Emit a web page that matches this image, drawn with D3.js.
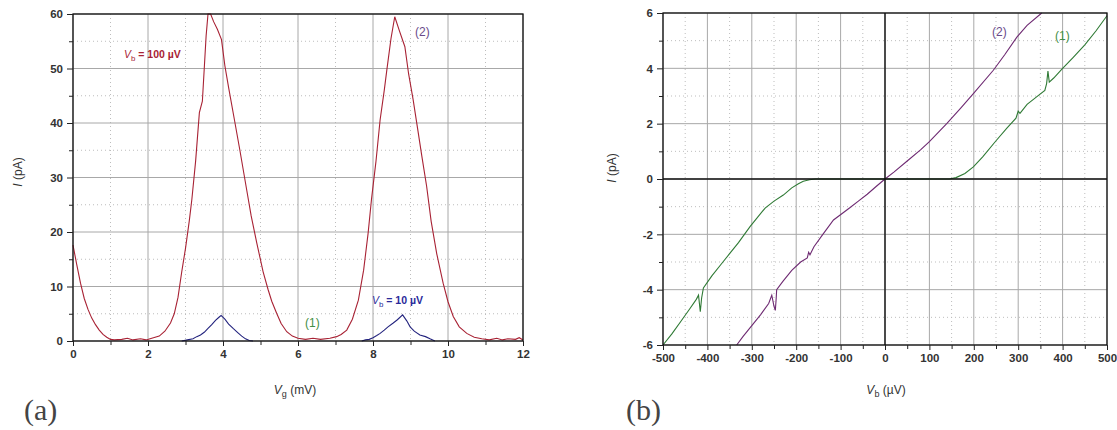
<!DOCTYPE html>
<html>
<head>
<meta charset="utf-8">
<script src="https://cdn.jsdelivr.net/npm/d3@7"></script>
<style>
  body { margin: 0; background: #fff; }
  svg { display: block; }
  .tick text { font-family: "Liberation Sans", Arial, sans-serif; font-size: 11.5px; font-weight: bold; fill: #333; }
</style>
</head>
<body>
<svg id="chart" width="1117" height="430"></svg>
<script>
// panel (a): current vs gate voltage, two bias voltages
const redCurve = [ // Vb = 100 uV
  [0,17.6],[0.1,14],[0.2,10.6],[0.3,7.8],[0.4,5.8],[0.5,4.2],[0.6,3.0],[0.7,2.0],[0.8,1.2],[0.9,0.7],
  [1.0,0.3],[1.1,0.2],[1.3,0.3],[1.45,0.5],[1.6,0.2],[1.8,0.4],[1.95,0.2],[2.1,0.5],[2.3,0.9],[2.45,1.8],
  [2.6,3.3],[2.7,5.0],[2.8,8.0],[2.9,12.7],[3.0,17],[3.1,22],[3.17,26],[3.27,33],[3.37,41.9],[3.45,44],
  [3.5,50],[3.55,56],[3.6,60],[3.67,60],[3.75,58.6],[3.85,57.2],[3.96,55.3],[4.05,50.5],[4.15,46.5],[4.32,40],
  [4.45,35],[4.63,27.8],[4.75,23],[4.9,18],[5.07,12.7],[5.2,9.5],[5.3,7.3],[5.43,5.1],[5.55,3.2],[5.7,1.7],
  [5.85,0.9],[6.0,0.5],[6.2,0.3],[6.4,0.5],[6.6,0.3],[6.85,0.5],[7.03,0.8],[7.15,1.2],[7.3,2.0],[7.45,4.0],
  [7.61,7.5],[7.75,13],[7.87,19.8],[7.96,26],[8.08,33],[8.19,40.6],[8.3,46],[8.37,49.8],[8.48,55.5],[8.58,59.5],
  [8.7,57],[8.85,54],[8.95,49],[9.07,44.3],[9.2,38.5],[9.3,34],[9.43,28.4],[9.55,22],[9.7,16],[9.87,10.6],
  [10.0,7.2],[10.14,4.5],[10.3,2.6],[10.5,1.4],[10.7,0.7],[10.9,0.4],[11.1,0.2],[11.3,0.5],[11.45,0.2],[11.6,0.4],
  [11.8,0.3],[11.9,0.6],[12,0.2]
];
const blueCurve = [ // Vb = 10 uV
  [2.9,0],[3.05,0.2],[3.2,0.4],[3.3,0.8],[3.4,1.1],[3.5,1.6],[3.6,2.3],[3.7,3.0],[3.8,3.8],[3.9,4.4],
  [3.95,4.7],[4.05,4.0],[4.15,3.1],[4.27,2.3],[4.4,1.5],[4.5,0.9],[4.6,0.4],[4.7,0.1],[4.8,0],
  null,
  [7.7,0],[7.8,0.2],[7.9,0.3],[8.0,0.6],[8.1,1.0],[8.19,1.4],[8.3,2.0],[8.4,2.6],[8.54,3.3],[8.65,3.9],
  [8.79,4.8],[8.9,3.7],[8.99,2.6],[9.1,1.8],[9.25,1.1],[9.4,0.8],[9.52,0.4],[9.65,0]
];
const aXTicks = [0, 2, 4, 6, 8, 10, 12];
const aYTicks = [0, 10, 20, 30, 40, 50, 60];

// panel (b): I-V curves at two gate voltages
const curve2 = [
  [-334,-6],[-320,-5.7],[-300,-5.3],[-280,-4.9],[-262,-4.5],[-255,-4.2],[-250,-4.6],[-247,-4.75],[-245,-4.3],[-244,-4.0],
  [-230,-3.7],[-210,-3.3],[-190,-3.0],[-175,-2.85],[-172,-2.65],[-169,-2.74],[-160,-2.45],[-140,-2.0],[-116,-1.48],[-101,-1.3],
  [-80,-1.05],[-60,-0.8],[-40,-0.55],[-20,-0.27],[0,0],[20,0.25],[50,0.65],[80,1.05],[100,1.35],[139,2.0],
  [170,2.55],[200,3.1],[244,3.93],[270,4.5],[297,5.13],[320,5.55],[353,6]
];
const curve1 = [
  [-500,-6],[-480,-5.6],[-460,-5.15],[-440,-4.7],[-425,-4.35],[-420,-4.2],[-418,-4.5],[-416,-4.8],[-413,-4.3],[-409,-3.94],
  [-390,-3.5],[-370,-3.1],[-350,-2.7],[-330,-2.3],[-304,-1.72],[-289,-1.42],[-270,-1.05],[-250,-0.8],[-229,-0.58],[-210,-0.32],
  [-195,-0.17],[-184,-0.08],[-170,-0.03],[-157,0],[-120,0],[-80,0],[0,0],[100,0],[145,0],[160,0.05],
  [180,0.2],[199,0.44],[220,0.8],[251,1.4],[275,1.85],[295,2.2],[300,2.45],[304,2.37],[320,2.7],[340,2.95],
  [360,3.2],[364,3.45],[367,3.9],[370,3.5],[380,3.65],[400,4.0],[424,4.4],[450,4.85],[475,5.35],[500,5.9]
];
const bXTicks = [-500, -400, -300, -200, -100, 0, 100, 200, 300, 400, 500];
const bYTicks = [-6, -4, -2, 0, 2, 4, 6];

const svg = d3.select("#chart");

const colRed = "#a82234", colBlue = "#23237e", colGreen = "#2f7a35", colPurple = "#6e2a72";

function drawPanel(opts) {
  const g = svg.append("g");
  const x = d3.scaleLinear().domain(opts.xDomain).range([opts.left, opts.right]);
  const y = d3.scaleLinear().domain(opts.yDomain).range([opts.bottom, opts.top]);

  // minor grid (dotted)
  g.selectAll(".mgx").data(opts.xMinor).join("line")
    .attr("x1", d => x(d)).attr("x2", d => x(d)).attr("y1", opts.top).attr("y2", opts.bottom)
    .attr("stroke", "#bdbdbd").attr("stroke-dasharray", "1,3");
  g.selectAll(".mgy").data(opts.yMinor).join("line")
    .attr("y1", d => y(d)).attr("y2", d => y(d)).attr("x1", opts.left).attr("x2", opts.right)
    .attr("stroke", "#bdbdbd").attr("stroke-dasharray", "1,3");
  // major grid
  g.selectAll(".gx").data(opts.xTicks).join("line")
    .attr("x1", d => x(d)).attr("x2", d => x(d)).attr("y1", opts.top).attr("y2", opts.bottom)
    .attr("stroke", "#a8a8a8");
  g.selectAll(".gy").data(opts.yTicks).join("line")
    .attr("y1", d => y(d)).attr("y2", d => y(d)).attr("x1", opts.left).attr("x2", opts.right)
    .attr("stroke", "#a8a8a8");

  // curves
  const line = d3.line().defined(d => d !== null).x(d => x(d[0])).y(d => y(d[1]));
  opts.series.forEach(s => {
    g.append("path").datum(s.data).attr("d", line)
      .attr("fill", "none").attr("stroke", s.color).attr("stroke-width", 1.1);
  });

  // frame
  g.append("rect").attr("x", opts.left).attr("y", opts.top)
    .attr("width", opts.right - opts.left).attr("height", opts.bottom - opts.top)
    .attr("fill", "none").attr("stroke", "#111").attr("stroke-width", 1.3);

  // zero cross for panel b
  if (opts.cross) {
    g.append("line").attr("x1", x(0)).attr("x2", x(0)).attr("y1", opts.top).attr("y2", opts.bottom)
      .attr("stroke", "#111").attr("stroke-width", 1.4);
    g.append("line").attr("y1", y(0)).attr("y2", y(0)).attr("x1", opts.left).attr("x2", opts.right)
      .attr("stroke", "#111").attr("stroke-width", 1.4);
  }

  // axes
  const xAxis = g.append("g").attr("transform", `translate(0,${opts.bottom})`)
    .call(d3.axisBottom(x).tickValues(opts.xTicks).tickSize(5).tickPadding(4).tickFormat(d3.format("d")));
  xAxis.select(".domain").remove();
  g.append("g").attr("transform", `translate(0,${opts.bottom})`)
    .call(d3.axisBottom(x).tickValues(opts.xMinor).tickSize(4).tickFormat(""))
    .select(".domain").remove();
  const yAxis = g.append("g").attr("transform", `translate(${opts.left},0)`)
    .call(d3.axisLeft(y).tickValues(opts.yTicks).tickSize(6).tickPadding(4).tickFormat(d3.format("d")));
  yAxis.select(".domain").remove();
  g.append("g").attr("transform", `translate(${opts.left},0)`)
    .call(d3.axisLeft(y).tickValues(opts.yMinor).tickSize(4).tickFormat(""))
    .select(".domain").remove();
  g.selectAll(".tick line").attr("stroke", "#222");
  g.selectAll(".tick text").text(function() { return this.textContent.replace("−", "-"); });

  return {g, x, y};
}

const pa = drawPanel({
  left: 73, right: 523, top: 14, bottom: 341,
  xDomain: [0, 12], yDomain: [0, 60],
  xTicks: aXTicks, yTicks: aYTicks,
  xMinor: [1, 3, 5, 7, 9, 11], yMinor: [5, 15, 25, 35, 45, 55],
  series: [{data: redCurve, color: colRed}, {data: blueCurve, color: colBlue}]
});

const pb = drawPanel({
  left: 663, right: 1107, top: 13, bottom: 345,
  xDomain: [-500, 500], yDomain: [-6, 6],
  xTicks: bXTicks, yTicks: bYTicks,
  xMinor: [-450, -350, -250, -150, -50, 50, 150, 250, 350, 450], yMinor: [-5, -3, -1, 1, 3, 5],
  series: [{data: curve1, color: colGreen}, {data: curve2, color: colPurple}],
  cross: true
});

// text helpers
function label(x, y, parts, opts) {
  const t = svg.append("text").attr("x", x).attr("y", y)
    .attr("font-family", "Liberation Sans, Arial, sans-serif")
    .attr("font-size", opts.size || 11).attr("fill", opts.color || "#333")
    .attr("text-anchor", opts.anchor || "start");
  if (opts.rotate) t.attr("transform", `rotate(-90,${x},${y})`);
  parts.forEach(p => {
    const s = t.append("tspan").text(p.t);
    if (p.italic) s.attr("font-style", "italic");
    if (p.sub) s.attr("baseline-shift", "-35%").attr("font-size", (opts.size || 11) * 0.75);
    if (p.bold) s.attr("font-weight", "bold");
  });
  return t;
}

// axis titles
label(22, 172, [{t: "I", italic: true}, {t: " (pA)"}], {size: 12, anchor: "middle", rotate: true});
label(295, 394, [{t: "V", italic: true}, {t: "g", sub: true}, {t: " (mV)"}], {size: 12, anchor: "middle"});
label(616, 168, [{t: "I", italic: true}, {t: " (pA)"}], {size: 12, anchor: "middle", rotate: true});
label(886, 394, [{t: "V", italic: true}, {t: "b", sub: true}, {t: " (\u00b5V)"}], {size: 12, anchor: "middle"});

// annotations panel a
label(124, 58, [{t: "V", italic: true}, {t: "b", sub: true}, {t: " = 100 \u00b5V", bold: true}], {size: 10.5, color: colRed});
label(415, 36, [{t: "(2)"}], {size: 12, color: "#6a4a8a"});
label(372, 304, [{t: "V", italic: true}, {t: "b", sub: true}, {t: " = 10 \u00b5V", bold: true}], {size: 10.5, color: "#2a2a9a"});
label(305, 327, [{t: "(1)"}], {size: 12, color: "#3f8f45"});
// annotations panel b
label(992, 36, [{t: "(2)"}], {size: 12, color: "#6a4a8a"});
label(1055, 40, [{t: "(1)"}], {size: 12, color: "#3f8f45"});

// panel letters
svg.append("text").attr("x", 24).attr("y", 420).text("(a)")
  .attr("font-family", "Liberation Serif, serif").attr("font-size", 30).attr("fill", "#444");
svg.append("text").attr("x", 626).attr("y", 420).text("(b)")
  .attr("font-family", "Liberation Serif, serif").attr("font-size", 30).attr("fill", "#444");
</script>
</body>
</html>
